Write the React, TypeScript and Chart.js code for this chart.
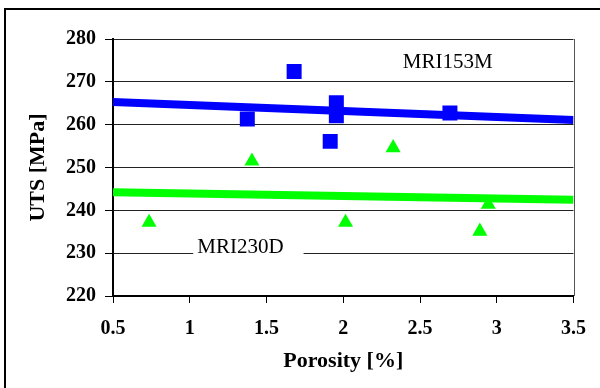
import React, { useEffect, useRef } from "react";
import { Chart, registerables } from "chart.js";

Chart.register(...registerables);

// ---- data ----
const seriesNames = ["MRI153M", "MRI230D"];
const mri153mPorosity = [1.375, 1.68, 1.915, 1.955, 1.955, 2.695];
const mri153mUts = [261.3, 272.4, 256.1, 265.1, 262.1, 262.7];
const mri230dPorosity = [0.735, 1.405, 2.015, 2.325, 2.89, 2.945];
const mri230dUts = [237.2, 251.5, 237.2, 254.6, 235.1, 241.4];
const trendPorosity = [0.5, 3.5];
const mri153mTrend = [265.3, 261.1];
const mri230dTrend = [244.2, 242.45];
const xTickValues = [0.5, 1, 1.5, 2, 2.5, 3, 3.5];
const yTickValues = [220, 230, 240, 250, 260, 270, 280];
const xTitle = "Porosity [%]";
const yTitle = "UTS [MPa]";

const SERIF = "'Times New Roman', 'Liberation Serif', serif";
const BLUE = "#0000ff";
const GREEN = "#00ff00";

const zip = (xs: number[], ys: number[]) => xs.map((x, i) => ({ x, y: ys[i] }));

// series label annotations (position in data units)
const seriesLabelAnchors = [
  { x: 2.68, y: 273.3 },
  { x: 1.33, y: 230 },
];

const decorPlugin = {
  id: "decor",
  beforeDatasetsDraw(chart: any) {
    const { ctx, chartArea, scales } = chart;
    ctx.save();
    // right border of plot area
    ctx.strokeStyle = "#555";
    ctx.lineWidth = 1;
    ctx.beginPath();
    ctx.moveTo(Math.round(chartArea.right) + 0.5, chartArea.top);
    ctx.lineTo(Math.round(chartArea.right) + 0.5, chartArea.bottom);
    ctx.stroke();
    // series labels with white boxes
    ctx.font = `21px ${SERIF}`;
    ctx.textAlign = "center";
    ctx.textBaseline = "alphabetic";
    seriesNames.forEach((name, i) => {
      const a = seriesLabelAnchors[i];
      const px = scales.x.getPixelForValue(a.x);
      const py = scales.y.getPixelForValue(a.y);
      const w = ctx.measureText(name).width;
      ctx.fillStyle = "#fff";
      ctx.fillRect(px - w / 2 - 4, py - 18, w + 24, 24);
      ctx.fillStyle = "#000";
      ctx.fillText(name, px, py);
    });
    ctx.restore();
  },
  afterDraw(chart: any) {
    const { ctx } = chart;
    ctx.save();
    ctx.strokeStyle = "#000";
    ctx.lineWidth = 2;
    ctx.strokeRect(5, 9, 800, 600);
    ctx.restore();
  },
};

export default function App() {
  const ref = useRef<HTMLCanvasElement>(null);
  useEffect(() => {
    if (!ref.current) return;
    const tickFont = { family: SERIF, size: 20, weight: "bold" as const };
    const titleFont = { family: SERIF, size: 22, weight: "bold" as const };
    const chart = new Chart(ref.current, {
      type: "scatter",
      data: {
        datasets: [
          {
            label: seriesNames[0],
            data: zip(mri153mPorosity, mri153mUts),
            pointStyle: "rect",
            pointRadius: 10.6,
            backgroundColor: BLUE,
            borderColor: BLUE,
            borderWidth: 0,
            order: 1,
          },
          {
            label: seriesNames[1],
            data: zip(mri230dPorosity, mri230dUts),
            pointStyle: "triangle",
            pointRadius: 8.7,
            backgroundColor: GREEN,
            borderColor: GREEN,
            borderWidth: 0,
            order: 1,
          },
          {
            type: "line",
            label: seriesNames[0] + " trend",
            data: zip(trendPorosity, mri153mTrend),
            borderColor: BLUE,
            borderWidth: 8,
            pointRadius: 0,
            showLine: true,
            fill: false,
            order: 2,
          } as any,
          {
            type: "line",
            label: seriesNames[1] + " trend",
            data: zip(trendPorosity, mri230dTrend),
            borderColor: GREEN,
            borderWidth: 8,
            pointRadius: 0,
            showLine: true,
            fill: false,
            order: 2,
          } as any,
        ],
      },
      options: {
        responsive: false,
        animation: false,
        layout: { padding: { top: 39, right: 25, left: 0, bottom: 0 } },
        plugins: { legend: { display: false }, tooltip: { enabled: false } },
        scales: {
          x: {
            type: "linear",
            min: 0.5,
            max: 3.5,
            afterBuildTicks: (s: any) => {
              s.ticks = xTickValues.map((v) => ({ value: v }));
            },
            afterFit: (s: any) => {
              s.height = 92;
            },
            ticks: {
              font: tickFont,
              color: "#000",
              padding: 14,
              maxRotation: 0,
              callback: (v: any) => String(v),
            },
            grid: {
              drawOnChartArea: false,
              drawTicks: true,
              tickLength: 7,
              tickColor: "#000",
              color: "#000",
            },
            border: { color: "#000", width: 2 },
            title: {
              display: true,
              text: xTitle,
              font: titleFont,
              color: "#000",
              padding: { top: 0, bottom: 13 },
            },
          },
          y: {
            type: "linear",
            min: 220,
            max: 280,
            afterBuildTicks: (s: any) => {
              s.ticks = yTickValues.map((v) => ({ value: v }));
            },
            afterFit: (s: any) => {
              s.width = 113;
            },
            ticks: {
              font: tickFont,
              color: "#000",
              padding: 9,
              callback: (v: any) => String(v),
            },
            grid: {
              color: "#222",
              lineWidth: 1,
              tickLength: 8,
              tickColor: "#000",
            },
            border: { color: "#000", width: 2 },
            title: {
              display: true,
              text: yTitle,
              font: titleFont,
              color: "#000",
              padding: { top: 25, bottom: 0 },
            },
          },
        },
      },
      plugins: [decorPlugin],
    });
    return () => chart.destroy();
  }, []);
  return (
    <div style={{ position: "fixed", left: 0, top: 0, width: 600, height: 388, background: "#fff" }}>
      <canvas ref={ref} width={600} height={388} style={{ display: "block" }} />
    </div>
  );
}
